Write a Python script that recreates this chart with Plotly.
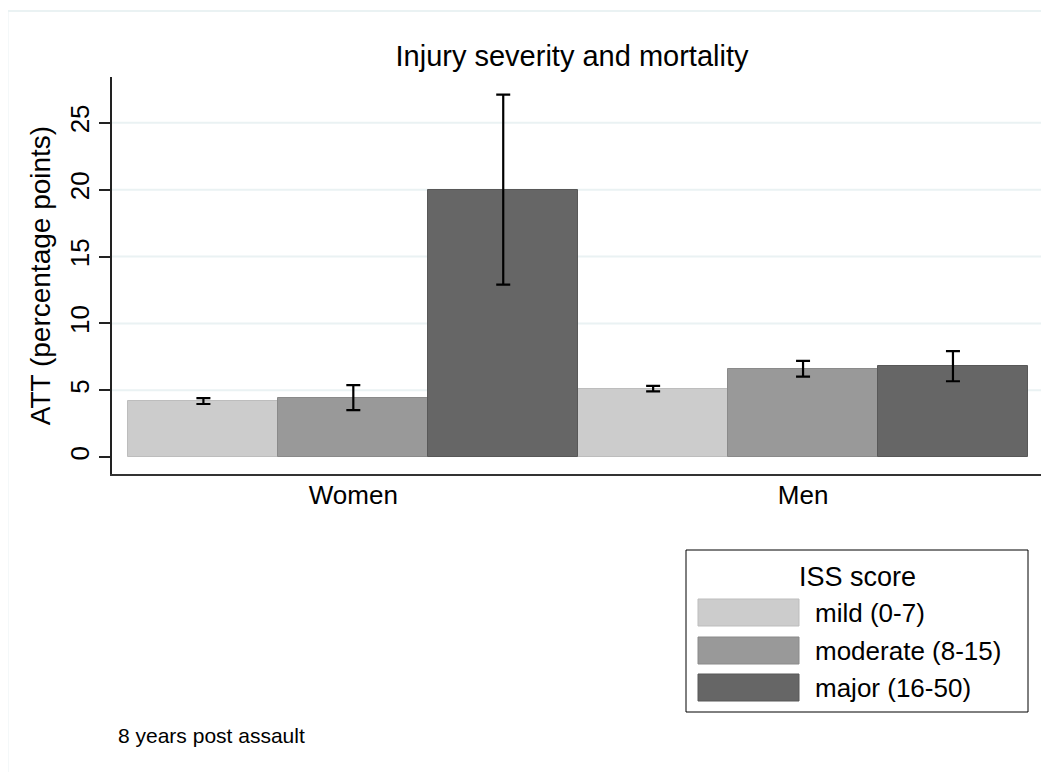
import plotly.graph_objects as go

# ---- data ----
groups = ["Women", "Men"]
series_names = ["mild (0-7)", "moderate (8-15)", "major (16-50)"]
att_mild = [4.2, 5.13]
att_moderate = [4.46, 6.61]
att_major = [20.0, 6.81]
ci_mild = [0.22, 0.2]
ci_moderate = [0.93, 0.59]
ci_major = [7.1, 1.13]
y_ticks = [0, 5, 10, 15, 20, 25]

fills = ["#cccccc", "#999999", "#666666"]
edges = ["#bdbdbd", "#8a8a8a", "#585858"]
FONT = "Liberation Sans, Arial, sans-serif"

OFF = 8  # page body margin offset
W, H = 1049 - OFF, 772 - OFF
L, R, T, B = 112 - OFF, 12 - OFF, 77 - OFF, 298


def px_x(px):
    return (px - OFF - L) / (W - L - R)


def px_y(py):
    return (H - B - (py - OFF)) / (H - T - B)


fig = go.Figure()
for name, vals, errs, fc, ec in zip(series_names,
                                    [att_mild, att_moderate, att_major],
                                    [ci_mild, ci_moderate, ci_major],
                                    fills, edges):
    fig.add_trace(go.Bar(
        x=groups, y=vals, name=name,
        marker=dict(color=fc, line=dict(color=ec, width=1)),
        error_y=dict(type="data", array=errs, visible=True,
                     color="black", thickness=2.2, width=7),
        showlegend=False,
    ))

shapes = []
# gridlines (no gridline at 0)
for t in y_ticks[1:]:
    shapes.append(dict(type="line", xref="paper", yref="y", x0=0, x1=1, y0=t, y1=t,
                       line=dict(color="#eaf2f3", width=2), layer="below"))
# outer graph-region frame
shapes.append(dict(type="rect", xref="paper", yref="paper",
                   x0=px_x(7.5), x1=px_x(1070), y0=px_y(11), y1=px_y(800),
                   line=dict(color="#eaf2f3", width=2), layer="below"))
# legend box
shapes.append(dict(type="rect", xref="paper", yref="paper",
                   x0=px_x(686), x1=px_x(1028), y0=px_y(550), y1=px_y(712),
                   line=dict(color="black", width=1), fillcolor="white"))
annotations = [
    dict(text="ISS score", xref="paper", yref="paper", x=px_x(857), y=px_y(577),
         xanchor="center", yanchor="middle", showarrow=False,
         font=dict(family=FONT, size=27, color="black")),
    dict(text="8 years post assault", xref="paper", yref="paper", x=px_x(116), y=px_y(735),
         xanchor="left", yanchor="middle", showarrow=False,
         font=dict(family=FONT, size=21, color="black")),
]
sw_tops = [599, 637, 674]
for name, fc, ec, top in zip(series_names, fills, edges, sw_tops):
    shapes.append(dict(type="rect", xref="paper", yref="paper",
                       x0=px_x(698), x1=px_x(799), y0=px_y(top), y1=px_y(top + 27),
                       line=dict(color=ec, width=1), fillcolor=fc))
    annotations.append(dict(text=name, xref="paper", yref="paper",
                            x=px_x(813), y=px_y(top + 13.5),
                            xanchor="left", yanchor="middle", showarrow=False,
                            font=dict(family=FONT, size=26, color="black")))

fig.update_layout(
    width=W, height=H,
    margin=dict(l=L, r=R, t=T, b=B),
    paper_bgcolor="white", plot_bgcolor="white",
    barmode="group", bargap=0, bargroupgap=0,
    title=dict(text="Injury severity and mortality", x=(572 - OFF) / W,
               xanchor="center", y=1 - (56 - OFF) / H, yanchor="middle",
               font=dict(family=FONT, size=29, color="black")),
    font=dict(family=FONT, color="black"),
    shapes=shapes,
    annotations=annotations,
    showlegend=False,
)
fig.update_xaxes(
    range=[-0.5366, 1.538], showgrid=False, zeroline=False,
    showline=True, linecolor="#333333", linewidth=1.5, ticks="",
    ticklabelstandoff=-3,
    tickfont=dict(family=FONT, size=26, color="black"),
)
fig.update_yaxes(
    range=[-1.25, 28.42], tickvals=y_ticks, showgrid=False, zeroline=False,
    showline=True, linecolor="#222222", linewidth=1.5,
    ticks="outside", ticklen=11, tickcolor="#222222", tickwidth=1.5,
    tickangle=-90, tickfont=dict(family=FONT, size=26, color="black"),
    title=dict(text="ATT (percentage points)", standoff=6,
               font=dict(family=FONT, size=28, color="black")),
)

fig.write_html("out.html")
